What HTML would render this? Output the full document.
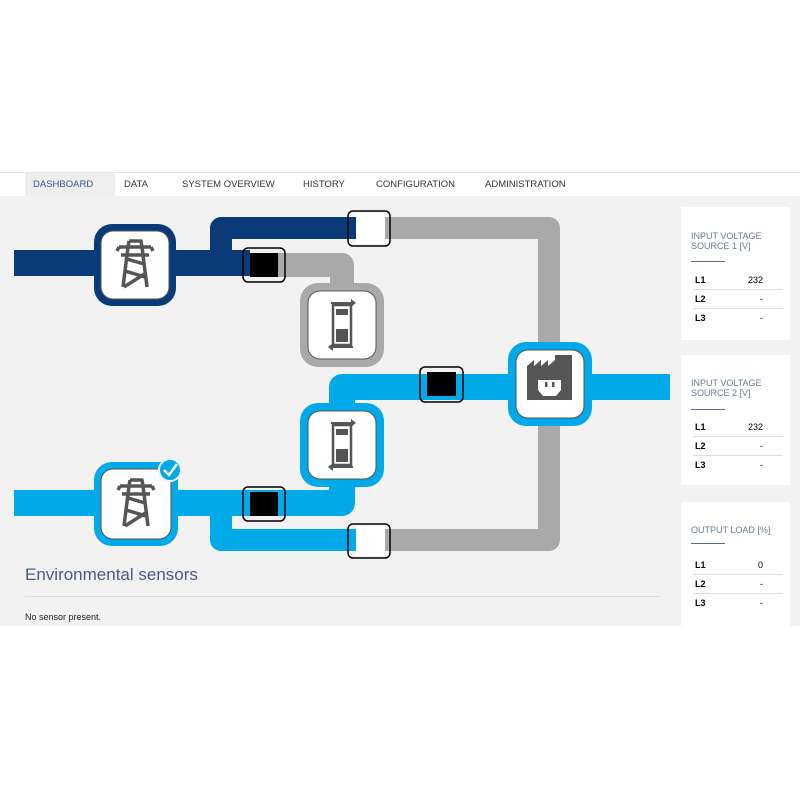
<!DOCTYPE html>
<html><head><style>
body{margin:0;width:800px;height:800px;background:#fff;position:relative;font-family:"Liberation Sans",sans-serif;overflow:hidden}
.nav{position:absolute;top:172px;left:0;width:800px;height:23px;border-top:1px solid #e4e4e4;border-bottom:1px solid #e4e4e4;background:#fff}
.nav span{position:absolute;top:6px;font-size:9.5px;color:#333}
.bg{position:absolute;top:196px;left:0;width:800px;height:430px;background:#f2f2f2}
.panel{position:absolute;left:681px;width:109px;background:#fff}
.panel .t{position:absolute;left:10px;font-size:9px;color:#6a7a9a;line-height:10px}
.panel .u{position:absolute;left:10px;width:34px;height:1px;background:#5a6a8a}
.row{position:absolute;left:12px;width:90px;height:18px;font-size:9px;border-bottom:1px solid #ddd}
.row b{position:absolute;left:2px;top:4px}
.row i{position:absolute;right:20px;top:4px;font-style:normal}
</style></head><body>
<div class="nav">
<span style="left:25px;top:0;height:23px;width:90px;background:#eee"></span>
<span style="left:33px;color:#3a5590">DASHBOARD</span>
<span style="left:124px">DATA</span>
<span style="left:182px">SYSTEM OVERVIEW</span>
<span style="left:303px">HISTORY</span>
<span style="left:376px">CONFIGURATION</span>
<span style="left:485px">ADMINISTRATION</span>
</div>
<div class="bg"></div>
<svg style="position:absolute;left:0;top:0" width="800" height="800">
<defs>
<g id="tower" fill="none" stroke="#555" stroke-width="3.5" stroke-linejoin="round">
<path d="M-16,-18 L16,-18 M-14,-10 L14,-10 M-7,-18 L-12,22 M7,-18 L12,22 M-6,-24 L6,-24 L7,-18 M-6,-24 L-7,-18 M-18,-14 L-16,-18 M18,-14 L16,-18 M-8,-6 L9,-1 M-10,6 L10,12 M-11,22 L11,8"/>
</g>
<g id="inv">
<rect x="-9" y="-20" width="18" height="40" fill="#fff" stroke="#555" stroke-width="2.5"/>
<rect x="-6" y="-16" width="12" height="6" fill="#555"/>
<rect x="-6" y="4" width="12" height="13" fill="#555"/>
<path d="M9,-26 L14,-22 L9,-18Z M-9,26 L-14,22 L-9,18Z" fill="#555"/>
<path d="M-11,-22 L10,-22 M11,22 L-10,22" stroke="#555" stroke-width="2"/>
</g>
</defs>
<path d="M370,228 H549 V384" fill="none" stroke="#a9a9a9" stroke-width="22" stroke-linejoin="round"/>
<path d="M370,540 H549 V384" fill="none" stroke="#a9a9a9" stroke-width="22" stroke-linejoin="round"/>
<path d="M270,265 H342 V300" fill="none" stroke="#a9a9a9" stroke-width="24" stroke-linejoin="round"/>
<path d="M14,263 H250" stroke="#0a3a78" stroke-width="26"/>
<path d="M221,263 V228 H358" fill="none" stroke="#0a3a78" stroke-width="22" stroke-linejoin="round"/>
<path d="M342,440 V387 H670" fill="none" stroke="#00a9e8" stroke-width="26" stroke-linejoin="round"/>
<path d="M14,503 H342 V460" fill="none" stroke="#00a9e8" stroke-width="26" stroke-linejoin="round"/>
<path d="M221,503 V540 H358" fill="none" stroke="#00a9e8" stroke-width="22" stroke-linejoin="round"/>
<rect x="356" y="213" width="29" height="31" fill="#fff"/>
<rect x="348" y="211" width="42" height="35" rx="5" fill="none" stroke="#000" stroke-width="1.5"/>
<rect x="356" y="526" width="29" height="30" fill="#fff"/>
<rect x="348" y="524" width="42" height="34" rx="5" fill="none" stroke="#000" stroke-width="1.5"/>
<rect x="243" y="248" width="42" height="34" rx="5" fill="none" stroke="#000" stroke-width="1.5"/>
<rect x="250" y="253" width="28" height="24" fill="#000"/>
<rect x="243" y="487" width="42" height="34" rx="5" fill="none" stroke="#000" stroke-width="1.5"/>
<rect x="250" y="492" width="28" height="24" fill="#000"/>
<rect x="420" y="367" width="43" height="35" rx="5" fill="none" stroke="#000" stroke-width="1.5"/>
<rect x="427" y="372" width="29" height="24" fill="#000"/>
<rect x="94" y="224" width="82" height="82" rx="18" fill="#0a3a78"/>
<rect x="101" y="231" width="68" height="68" rx="12" fill="#fff" stroke="#555" stroke-width="1"/>
<use href="#tower" x="135" y="265"/>
<rect x="300" y="283" width="84" height="84" rx="18" fill="#a9a9a9"/>
<rect x="308" y="291" width="68" height="68" rx="12" fill="#fff" stroke="#555" stroke-width="1"/>
<use href="#inv" x="342" y="325"/>
<rect x="300" y="403" width="84" height="84" rx="18" fill="#00a9e8"/>
<rect x="308" y="411" width="68" height="68" rx="12" fill="#fff" stroke="#555" stroke-width="1"/>
<use href="#inv" x="342" y="445"/>
<rect x="94" y="462" width="84" height="84" rx="18" fill="#00a9e8"/>
<rect x="101" y="469" width="70" height="70" rx="12" fill="#fff" stroke="#555" stroke-width="1"/>
<use href="#tower" x="136" y="504"/>
<circle cx="170" cy="470" r="11" fill="#00a9e8" stroke="#f2f2f2" stroke-width="2"/>
<path d="M164,470 L169,475 L177,464" fill="none" stroke="#fff" stroke-width="2.5"/>
<rect x="508" y="342" width="84" height="84" rx="18" fill="#00a9e8"/>
<rect x="516" y="350" width="68" height="68" rx="12" fill="#fff" stroke="#555" stroke-width="1"/>
<path d="M527,366 L534,360 V366 L541,360 V366 L548,360 V366 L555,360 V355 H572 V400 H527Z" fill="#555"/>
<path d="M538,380 H561 V390 L556,396 H543 L538,390Z" fill="#fff"/>
<rect x="545" y="382" width="2.5" height="5" fill="#555"/><rect x="552" y="382" width="2.5" height="5" fill="#555"/>
</svg>
<div style="position:absolute;left:25px;top:565px;font-size:17px;color:#4a5a8a">Environmental sensors</div>
<div style="position:absolute;left:25px;top:596px;width:635px;height:1px;background:#ddd"></div>
<div style="position:absolute;left:25px;top:612px;font-size:9px;color:#222">No sensor present.</div>

<div class="panel" style="top:207px;height:133px">
<div class="t" style="top:24px">INPUT VOLTAGE<br>SOURCE 1 [V]</div>
<div class="u" style="top:54px"></div>
<div class="row" style="top:64px"><b>L1</b><i>232</i></div>
<div class="row" style="top:83px"><b>L2</b><i>-</i></div>
<div class="row" style="top:102px;border:0"><b>L3</b><i>-</i></div>
</div>
<div class="panel" style="top:355px;height:130px">
<div class="t" style="top:23px">INPUT VOLTAGE<br>SOURCE 2 [V]</div>
<div class="u" style="top:54px"></div>
<div class="row" style="top:63px"><b>L1</b><i>232</i></div>
<div class="row" style="top:82px"><b>L2</b><i>-</i></div>
<div class="row" style="top:101px;border:0"><b>L3</b><i>-</i></div>
</div>
<div class="panel" style="top:502px;height:124px">
<div class="t" style="top:23px">OUTPUT LOAD [%]</div>
<div class="u" style="top:41px"></div>
<div class="row" style="top:54px"><b>L1</b><i>0</i></div>
<div class="row" style="top:73px"><b>L2</b><i>-</i></div>
<div class="row" style="top:92px;border:0"><b>L3</b><i>-</i></div>
</div>
</body></html>
